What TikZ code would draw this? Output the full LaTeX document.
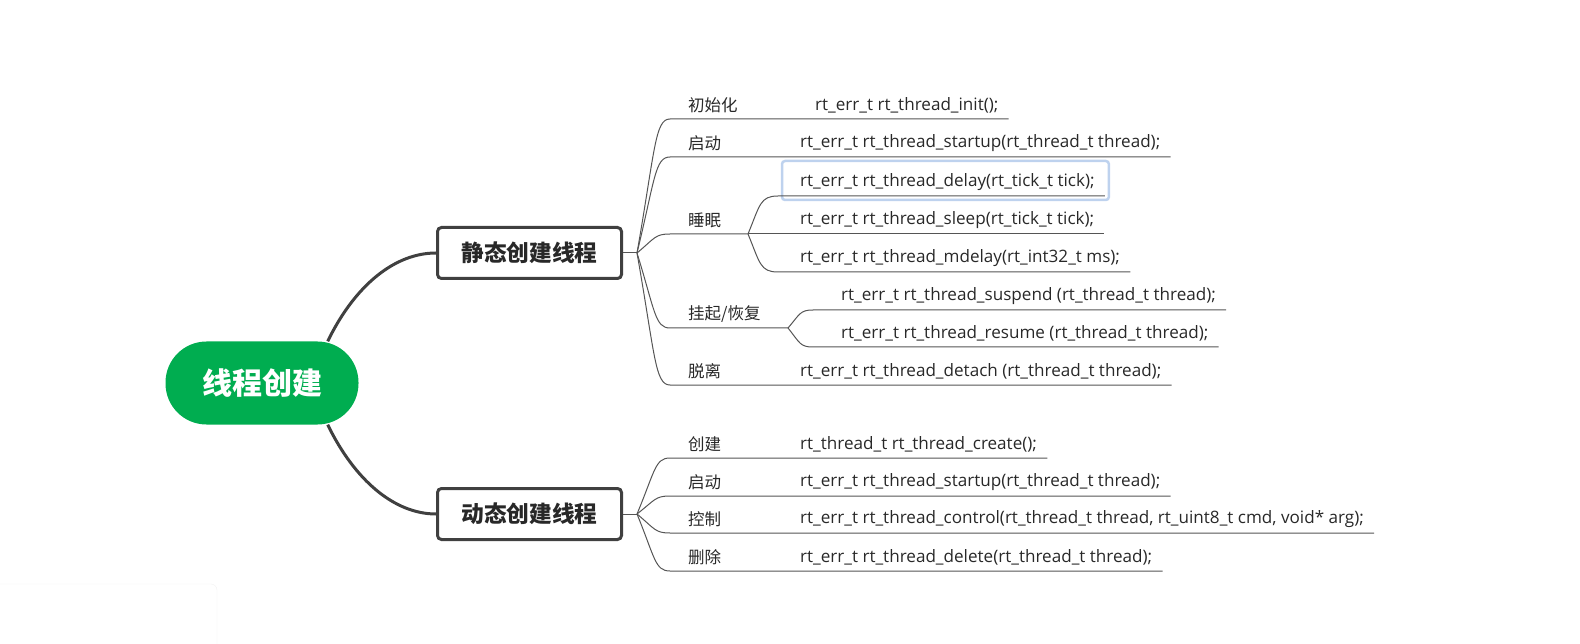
\documentclass[tikz,border=0pt]{standalone}
\usepackage{fontspec}
\setmainfont{Open Sans}
\newfontfamily\cjk{Noto Sans CJK SC}
\definecolor{rootgreen}{RGB}{0,173,80}
\definecolor{boxgray}{RGB}{64,64,64}
\definecolor{linegray}{RGB}{85,85,85}
\definecolor{txtgray}{RGB}{40,40,40}
\definecolor{selblue}{RGB}{190,210,238}
\begin{document}
\begin{tikzpicture}[x=1pt,y=-1pt,
    root node/.style={rectangle,rounded corners=41pt,fill=rootgreen,text=white,
      minimum width=193pt,minimum height=83pt,font=\cjk\bfseries\fontsize{30}{36}\selectfont},
    topic node/.style={rectangle,rounded corners=4pt,draw=boxgray,line width=3pt,fill=white,
      minimum width=184pt,minimum height=51pt,text=txtgray,font=\cjk\bfseries\fontsize{22.7}{27}\selectfont},
    label node/.style={anchor=west,inner sep=0pt,text=txtgray,font=\cjk\fontsize{16.5}{20}\selectfont},
    code node/.style={anchor=west,inner sep=0pt,text=txtgray,font=\fontsize{17.1}{20}\selectfont},
    link/.style={draw=boxgray,line width=3pt},
    branch/.style={draw=linegray,line width=1pt}
  ]
  \useasboundingbox (0,0) rectangle (1580,644);
  \draw[black!5,fill=white,rounded corners=6pt] (-10,584) rectangle (217,660);

  \node[root node] (root) at (262,383) {线程创建};
  \node[topic node] (static) at (529.5,253) {静态创建线程};
  \node[topic node] (dynamic) at (529.5,514) {动态创建线程};
  \draw[link] ([xshift=-31pt]root.north east) .. controls (355,285) and (395,253) .. (static.west);
  \draw[link] ([xshift=-31pt]root.south east) .. controls (355,481) and (395,514) .. (dynamic.west);

  % static branch
  \coordinate (sfan) at (637,253);
  \draw[branch] (static.east) -- (sfan);
  \node[label node] (sinit) at (688,105) {初始化};
  \node[code node] (sinitc) at (815,105) {rt\_err\_t rt\_thread\_init();};
  \draw[branch] (sfan) .. controls (655,150) and (655,119) .. (670,119) -- ([shift={(10,14)}]sinitc.east);
  \node[label node] (sstart) at (688,143) {启动};
  \node[code node] (sstartc) at (800,143) {rt\_err\_t rt\_thread\_startup(rt\_thread\_t thread);};
  \draw[branch] (sfan) .. controls (655,179) and (655,157) .. (670,157) -- ([shift={(10,14)}]sstartc.east);

  \node[label node] (ssleep) at (688,220) {睡眠};
  \coordinate (sleepfan) at (748,234);
  \draw[branch] (sfan) .. controls (655,238) and (655,234) .. (670,234) -- (sleepfan);
  \node[code node] (sdelayc) at (800,182) {rt\_err\_t rt\_thread\_delay(rt\_tick\_t tick);};
  \node[code node] (ssleepc) at (800,220) {rt\_err\_t rt\_thread\_sleep(rt\_tick\_t tick);};
  \node[code node] (smdelayc) at (800,258) {rt\_err\_t rt\_thread\_mdelay(rt\_int32\_t ms);};
  \draw[selblue,line width=2.5pt,rounded corners=3pt] ([shift={(-18,-21)}]sdelayc.west) rectangle ([shift={(14,18)}]sdelayc.east);
  \draw[branch] (sleepfan) .. controls (760,205) and (760,196) .. (778,196) -- ([shift={(10,14)}]sdelayc.east);
  \draw[branch] (sleepfan) -- ([shift={(10,14)}]ssleepc.east);
  \draw[branch] (sleepfan) .. controls (760,263) and (760,272) .. (778,272) -- ([shift={(10,14)}]smdelayc.east);

  \node[label node] (ssusp) at (688,314) {挂起/恢复};
  \coordinate (suspfan) at (788,328);
  \draw[branch] (sfan) .. controls (655,311) and (655,328) .. (670,328) -- (suspfan);
  \node[code node] (ssuspc) at (841,296) {rt\_err\_t rt\_thread\_suspend (rt\_thread\_t thread);};
  \node[code node] (sresumec) at (841,333) {rt\_err\_t rt\_thread\_resume (rt\_thread\_t thread);};
  \draw[branch] (suspfan) .. controls (800,314) and (800,310) .. (813,310) -- ([shift={(10,14)}]ssuspc.east);
  \draw[branch] (suspfan) .. controls (800,343) and (800,347) .. (813,347) -- ([shift={(10,14)}]sresumec.east);

  \node[label node] (sdetach) at (688,371) {脱离};
  \node[code node] (sdetachc) at (800,371) {rt\_err\_t rt\_thread\_detach (rt\_thread\_t thread);};
  \draw[branch] (sfan) .. controls (655,355) and (655,385) .. (670,385) -- ([shift={(10,14)}]sdetachc.east);

  % dynamic branch
  \coordinate (dfan) at (637,514);
  \draw[branch] (dynamic.east) -- (dfan);
  \node[label node] (dcreate) at (688,444) {创建};
  \node[code node] (dcreatec) at (800,444) {rt\_thread\_t rt\_thread\_create();};
  \draw[branch] (dfan) .. controls (655,471) and (655,458) .. (670,458) -- ([shift={(10,14)}]dcreatec.east);
  \node[label node] (dstart) at (688,482) {启动};
  \node[code node] (dstartc) at (800,482) {rt\_err\_t rt\_thread\_startup(rt\_thread\_t thread);};
  \draw[branch] (dfan) .. controls (655,500) and (655,496) .. (670,496) -- ([shift={(10,14)}]dstartc.east);
  \node[label node] (dcontrol) at (688,519) {控制};
  \node[code node] (dcontrolc) at (800,519) {rt\_err\_t rt\_thread\_control(rt\_thread\_t thread, rt\_uint8\_t cmd, void* arg);};
  \draw[branch] (dfan) .. controls (655,529) and (655,533) .. (670,533) -- ([shift={(10,14)}]dcontrolc.east);
  \node[label node] (ddelete) at (688,557) {删除};
  \node[code node] (ddeletec) at (800,557) {rt\_err\_t rt\_thread\_delete(rt\_thread\_t thread);};
  \draw[branch] (dfan) .. controls (655,558) and (655,571) .. (670,571) -- ([shift={(10,14)}]ddeletec.east);
\end{tikzpicture}
\end{document}
